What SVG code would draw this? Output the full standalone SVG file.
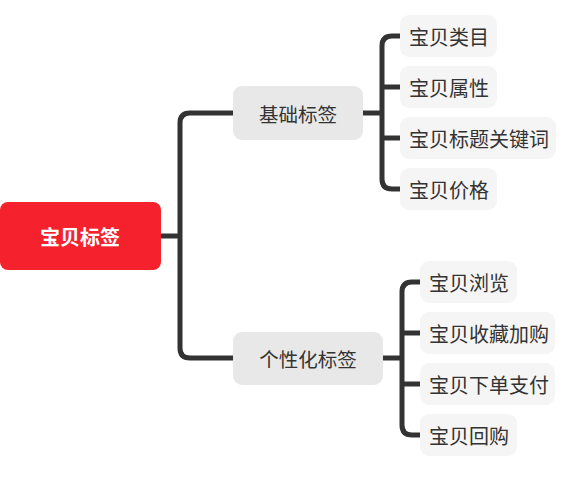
<svg xmlns="http://www.w3.org/2000/svg" width="581" height="484" viewBox="0 0 581 484">
<style>
text{font-family:"Noto Sans CJK SC","Noto Sans",sans-serif;dominant-baseline:central;}
.root rect{fill:#F5222D;}
.root text{fill:#fff;font-size:20px;font-weight:bold;text-anchor:middle;}
.mid rect{fill:#E8E8E8;}
.mid text{fill:#333;font-size:19.5px;text-anchor:middle;}
.leaf rect{fill:#F5F5F5;}
.leaf text{fill:#333;font-size:20px;}
.conn path{fill:none;stroke:#333;stroke-width:5;stroke-linecap:butt;}
</style>
<rect width="581" height="484" fill="#fff"/>
<g id="connectors" class="conn">
<path d="M161,236 H180"/>
<path d="M233,113 H190 Q180,113 180,123 V348 Q180,358 190,358 H233"/>
<path d="M363,113 H382"/>
<path d="M400,36 H392 Q382,36 382,46 V179 Q382,189 392,189 H400"/>
<path d="M382,87 H400"/>
<path d="M382,138 H400"/>
<path d="M383,358 H402"/>
<path d="M420,282 H412 Q402,282 402,292 V425 Q402,435 412,435 H420"/>
<path d="M402,333 H420"/>
<path d="M402,384 H420"/>
</g>
<g id="root" class="root"><rect x="0" y="202" width="161" height="68" rx="8"/><text x="80" y="236">宝贝标签</text></g>
<g id="n-basic" class="mid"><rect x="233" y="86" width="130" height="54" rx="9"/><text x="298" y="113">基础标签</text></g>
<g id="n-personal" class="mid"><rect x="233" y="332" width="150" height="53" rx="9"/><text x="308" y="358">个性化标签</text></g>
<g id="l1" class="leaf"><rect x="400" y="15" width="97" height="42" rx="9"/><text x="409" y="36">宝贝类目</text></g>
<g id="l2" class="leaf"><rect x="400" y="66" width="97" height="42" rx="9"/><text x="409" y="87">宝贝属性</text></g>
<g id="l3" class="leaf"><rect x="400" y="117" width="156" height="42" rx="9"/><text x="409" y="138">宝贝标题关键词</text></g>
<g id="l4" class="leaf"><rect x="400" y="168" width="97" height="42" rx="9"/><text x="409" y="189">宝贝价格</text></g>
<g id="l5" class="leaf"><rect x="420" y="261" width="97" height="42" rx="9"/><text x="429" y="282">宝贝浏览</text></g>
<g id="l6" class="leaf"><rect x="420" y="312" width="135" height="42" rx="9"/><text x="429" y="333">宝贝收藏加购</text></g>
<g id="l7" class="leaf"><rect x="420" y="363" width="135" height="42" rx="9"/><text x="429" y="384">宝贝下单支付</text></g>
<g id="l8" class="leaf"><rect x="420" y="414" width="97" height="42" rx="9"/><text x="429" y="435">宝贝回购</text></g>
</svg>
